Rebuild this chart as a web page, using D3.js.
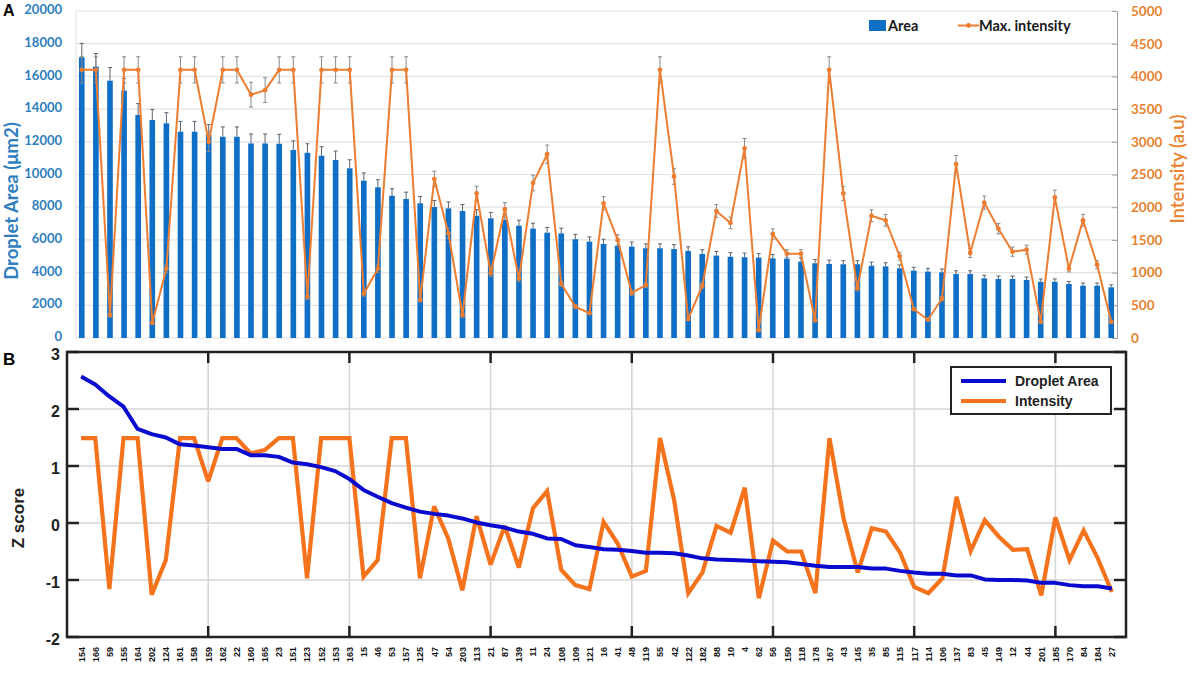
<!DOCTYPE html>
<html><head><meta charset="utf-8">
<script src="https://cdn.jsdelivr.net/npm/d3@7"></script>
<style>body{margin:0;background:#fff;} svg{display:block;}</style>
</head><body><svg id="c" width="1192" height="673"></svg>
<script>
const labels = ["154","166","59","155","164","202","124","161","158","159","162","22","160","165","23","151","123","152","153","163","15","46","53","157","125","47","54","203","113","21","87","139","11","24","108","109","121","16","41","48","119","55","42","122","182","88","10","4","62","56","150","118","178","167","43","145","35","85","115","117","114","106","137","83","45","149","12","44","201","185","170","84","184","27"];
const area = [17170,16600,15740,15130,13640,13330,13130,12620,12620,12450,
  12310,12310,11900,11900,11880,11500,11330,11150,10890,10380,
  9620,9220,8700,8500,8240,8010,7930,7770,7480,7320,
  7220,6870,6690,6440,6400,6040,5890,5750,5630,5590,
  5490,5490,5440,5320,5140,5040,4970,4940,4920,4870,
  4850,4670,4570,4530,4510,4510,4420,4380,4260,4120,
  4060,4020,3910,3910,3650,3610,3610,3550,3440,3440,
  3300,3200,3200,3100];
const areaErr = [850,800,800,750,700,650,650,630,630,600,
  600,600,580,580,580,560,550,550,540,520,
  480,460,430,420,410,400,390,390,370,360,
  360,340,330,320,320,300,290,290,280,280,
  270,270,270,260,260,250,250,250,240,240,
  240,230,230,230,220,220,220,220,210,210,
  200,200,200,200,180,180,180,180,170,170,
  160,160,160,150];
const intensity = [4100,4100,350,4100,4100,230,1060,4100,4100,3000,
  4100,4100,3720,3790,4100,4100,630,4100,4100,4100,
  680,1060,4100,4100,580,2430,1600,350,2210,990,
  1970,910,2370,2810,830,480,380,2060,1500,690,
  810,4100,2470,290,800,1940,1760,2900,120,1590,
  1290,1290,270,4100,2210,760,1870,1800,1250,440,
  280,600,2660,1300,2070,1670,1320,1350,250,2150,
  1060,1800,1120,250];
const intensityErr = [200,200,30,200,200,20,60,200,200,150,
  200,200,190,190,200,200,40,200,200,200,
  40,60,200,200,30,120,80,30,110,50,
  100,50,120,140,40,30,20,100,80,40,
  40,200,120,20,40,100,90,150,10,80,
  60,60,20,200,110,40,90,90,60,20,
  20,30,130,70,100,80,70,70,20,110,
  50,90,60,20];
const zArea = [2.57,2.43,2.22,2.04,1.65,1.56,1.50,1.38,1.36,1.33,
  1.30,1.30,1.19,1.19,1.16,1.06,1.03,0.98,0.91,0.77,
  0.58,0.46,0.35,0.27,0.20,0.16,0.13,0.08,0.01,-0.04,
  -0.08,-0.15,-0.19,-0.27,-0.28,-0.39,-0.42,-0.46,-0.47,-0.49,
  -0.52,-0.52,-0.53,-0.57,-0.62,-0.64,-0.65,-0.66,-0.67,-0.68,
  -0.69,-0.72,-0.75,-0.77,-0.77,-0.77,-0.80,-0.80,-0.84,-0.87,
  -0.89,-0.89,-0.92,-0.92,-0.99,-1.00,-1.00,-1.01,-1.05,-1.05,
  -1.09,-1.11,-1.11,-1.15];
const zIntensity = [1.49,1.49,-1.16,1.49,1.49,-1.26,-0.65,1.49,1.49,0.73,
  1.49,1.49,1.22,1.28,1.49,1.49,-0.97,1.49,1.49,1.49,
  -0.94,-0.65,1.49,1.49,-0.97,0.29,-0.27,-1.18,0.12,-0.73,
  -0.05,-0.78,0.26,0.56,-0.82,-1.09,-1.16,0.02,-0.36,-0.94,
  -0.84,1.49,0.40,-1.23,-0.87,-0.05,-0.17,0.62,-1.32,-0.31,
  -0.50,-0.50,-1.23,1.49,0.08,-0.87,-0.09,-0.15,-0.52,-1.12,
  -1.23,-0.97,0.46,-0.49,0.05,-0.24,-0.47,-0.46,-1.27,0.10,
  -0.65,-0.13,-0.62,-1.21];
const areaTicks = [0,2000,4000,6000,8000,10000,12000,14000,16000,18000,20000];
const intensityTicks = [0,500,1000,1500,2000,2500,3000,3500,4000,4500,5000];
const zTicks = [-2,-1,0,1,2,3];
const zGridX = [10,20,30,40,50,60,70];

const svg = d3.select("#c");
const fA = "Lato, 'Liberation Sans', sans-serif";
const fB = "'Liberation Sans', Arial, sans-serif";
const barBlue = "#0F6FC6", axBlue = "#2F7EC0", orange = "#ED7D31", axOrange = "#E8822F";

// ---------- Panel A ----------
const xA = d3.scaleBand().domain(labels).range([76, 1117]).paddingInner(0.6).paddingOuter(0.21);
const yA = d3.scaleLinear().domain([0, 20000]).range([338, 11]);
const yI = d3.scaleLinear().domain([0, 5000]).range([338, 11]);
const cx = d => xA(d) + xA.bandwidth() / 2;

const gA = svg.append("g");
gA.append("g").selectAll("line").data(areaTicks).join("line")
  .attr("x1", 76).attr("x2", 1117).attr("y1", d => yA(d)).attr("y2", d => yA(d))
  .attr("stroke", "#E3E3E3").attr("stroke-width", 1.2);
gA.append("line").attr("x1", 76).attr("x2", 76).attr("y1", 11).attr("y2", 338).attr("stroke", "#E0E0E0");

// left axis
const axL = gA.append("g").attr("transform", "translate(66,-1.5)")
  .call(d3.axisLeft(yA).tickValues(areaTicks).tickSize(0).tickPadding(4).tickFormat(d3.format("d")));
axL.select(".domain").remove();
axL.selectAll("text").attr("fill", axBlue).attr("font-family", fA).attr("font-weight", "bold").attr("font-size", 13);

// right axis
const axR = gA.append("g").attr("transform", "translate(1117,0)")
  .call(d3.axisRight(yI).tickValues(intensityTicks).tickSize(-5).tickPadding(14).tickFormat(d3.format("d")));
axR.select(".domain").attr("stroke", "#A0A0A0");
axR.selectAll("line").attr("stroke", "#A0A0A0");
axR.selectAll("text").attr("fill", axOrange).attr("font-family", fA).attr("font-weight", "bold").attr("font-size", 13.5);

// bars
gA.append("g").selectAll("rect").data(labels).join("rect")
  .attr("x", d => xA(d)).attr("width", xA.bandwidth())
  .attr("y", (d, i) => yA(area[i])).attr("height", (d, i) => yA(0) - yA(area[i]))
  .attr("fill", barBlue);
// bar error bars (upper)
const eb = gA.append("g").attr("stroke", "#5A6470").attr("stroke-width", 1);
eb.selectAll("line.v").data(labels).join("line").attr("class", "v")
  .attr("x1", cx).attr("x2", cx)
  .attr("y1", (d, i) => yA(area[i])).attr("y2", (d, i) => yA(area[i] + areaErr[i]));
eb.selectAll("line.c").data(labels).join("line").attr("class", "c")
  .attr("x1", d => cx(d) - 2).attr("x2", d => cx(d) + 2)
  .attr("y1", (d, i) => yA(area[i] + areaErr[i])).attr("y2", (d, i) => yA(area[i] + areaErr[i]));

// intensity error bars
const ib = gA.append("g").attr("stroke", "#8A8A8A").attr("stroke-width", 1);
ib.selectAll("line.v").data(labels).join("line").attr("class", "v")
  .attr("x1", cx).attr("x2", cx)
  .attr("y1", (d, i) => yI(intensity[i] - intensityErr[i])).attr("y2", (d, i) => yI(intensity[i] + intensityErr[i]));
[1, -1].forEach(s => {
  ib.selectAll("line.c" + (s > 0 ? "p" : "m")).data(labels).join("line").attr("class", "c" + (s > 0 ? "p" : "m"))
    .attr("x1", d => cx(d) - 2).attr("x2", d => cx(d) + 2)
    .attr("y1", (d, i) => yI(intensity[i] + s * intensityErr[i])).attr("y2", (d, i) => yI(intensity[i] + s * intensityErr[i]));
});

// intensity line
gA.append("path").datum(intensity)
  .attr("d", d3.line().x((d, i) => cx(labels[i])).y(d => yI(d)))
  .attr("fill", "none").attr("stroke", orange).attr("stroke-width", 2);
gA.append("g").selectAll("circle").data(intensity).join("circle")
  .attr("cx", (d, i) => cx(labels[i])).attr("cy", d => yI(d)).attr("r", 2.4).attr("fill", orange);

// legend A
gA.append("rect").attr("x", 869).attr("y", 20).attr("width", 17).attr("height", 11).attr("fill", barBlue);
gA.append("text").attr("x", 888).attr("y", 31).text("Area")
  .attr("font-family", fA).attr("font-weight", "bold").attr("font-size", 14.5).attr("fill", "#1a1a1a");
gA.append("line").attr("x1", 958).attr("x2", 979).attr("y1", 25.5).attr("y2", 25.5).attr("stroke", orange).attr("stroke-width", 2);
gA.append("circle").attr("cx", 968.5).attr("cy", 25.5).attr("r", 2.4).attr("fill", orange);
gA.append("text").attr("x", 979).attr("y", 31).text("Max. intensity")
  .attr("font-family", fA).attr("font-weight", "bold").attr("font-size", 14.5).attr("fill", "#1a1a1a");

// axis titles A
gA.append("text").attr("transform", "translate(18,201) rotate(-90)").attr("text-anchor", "middle")
  .text("Droplet Area (\u03bcm2)").attr("font-family", fA).attr("font-weight", "bold").attr("font-size", 18.5).attr("fill", axBlue);
gA.append("text").attr("transform", "translate(1184,169) rotate(-90)").attr("text-anchor", "middle")
  .text("Intensity (a.u)").attr("font-family", fA).attr("font-weight", "600").attr("font-size", 18.5).attr("fill", axOrange);
svg.append("text").attr("x", 3).attr("y", 16).text("A")
  .attr("font-family", fB).attr("font-weight", "bold").attr("font-size", 16);

// ---------- Panel B ----------
const xB = d3.scaleLinear().domain([0, 75]).range([67, 1126]);
const yB = d3.scaleLinear().domain([-2, 3]).range([637, 352]);
const gB = svg.append("g");
gB.append("g").selectAll("line").data(zTicks.slice(1, -1)).join("line")
  .attr("x1", xB(0)).attr("x2", xB(75)).attr("y1", d => yB(d)).attr("y2", d => yB(d))
  .attr("stroke", "#D6D6D6").attr("stroke-width", 1.5);
gB.append("g").selectAll("line").data(zGridX).join("line")
  .attr("x1", d => xB(d)).attr("x2", d => xB(d)).attr("y1", yB(3)).attr("y2", yB(-2))
  .attr("stroke", "#D6D6D6").attr("stroke-width", 1.5);

// tick marks
const tk = gB.append("g").attr("stroke", "#222").attr("stroke-width", 2.5);
tk.selectAll("line.l").data(zTicks).join("line").attr("class", "l")
  .attr("x1", xB(0)).attr("x2", xB(0) + 12).attr("y1", d => yB(d)).attr("y2", d => yB(d));
tk.selectAll("line.r").data(zTicks).join("line").attr("class", "r")
  .attr("x1", xB(75)).attr("x2", xB(75) - 12).attr("y1", d => yB(d)).attr("y2", d => yB(d));
tk.selectAll("line.t").data(zGridX).join("line").attr("class", "t")
  .attr("x1", d => xB(d)).attr("x2", d => xB(d)).attr("y1", yB(3)).attr("y2", yB(3) + 11);
tk.selectAll("line.b").data(zGridX).join("line").attr("class", "b")
  .attr("x1", d => xB(d)).attr("x2", d => xB(d)).attr("y1", yB(-2)).attr("y2", yB(-2) - 11);

// lines
const lineB = d3.line().x((d, i) => xB(i + 1)).y(d => yB(d));
gB.append("path").datum(zIntensity).attr("d", lineB).attr("fill", "none")
  .attr("stroke", "#F5731C").attr("stroke-width", 4.2).attr("stroke-linejoin", "miter").attr("stroke-miterlimit", 3);
gB.append("path").datum(zArea).attr("d", lineB).attr("fill", "none")
  .attr("stroke", "#0B0BCF").attr("stroke-width", 4).attr("stroke-linejoin", "round");

// box
gB.append("rect").attr("x", xB(0)).attr("y", yB(3)).attr("width", xB(75) - xB(0)).attr("height", yB(-2) - yB(3))
  .attr("fill", "none").attr("stroke", "#222").attr("stroke-width", 2.5);

// y axis labels
const axBL = gB.append("g").attr("transform", `translate(${xB(0) - 5},2.5)`)
  .call(d3.axisLeft(yB).tickValues(zTicks).tickSize(0).tickPadding(2).tickFormat(d3.format("d")));
axBL.select(".domain").remove();
axBL.selectAll("text").attr("font-family", fB).attr("font-weight", "bold").attr("font-size", 16).attr("fill", "#222")
  .text(d => d < 0 ? "-" + Math.abs(d) : d);

// x labels
const axBB = gB.append("g").attr("transform", `translate(0,${yB(-2) + 10})`)
  .call(d3.axisBottom(xB).tickValues(d3.range(1, 75)).tickSize(0).tickPadding(0).tickFormat(i => labels[i - 1]));
axBB.select(".domain").remove();
axBB.selectAll("text").attr("font-family", fB).attr("font-weight", "bold").attr("font-size", 9).attr("fill", "#111")
  .attr("text-anchor", "end").attr("dy", "0.32em").attr("transform", "rotate(-90)").attr("x", 0).attr("y", 0);

// z label
gB.append("text").attr("transform", "translate(24,518) rotate(-90)").attr("text-anchor", "middle")
  .text("Z score").attr("font-family", fB).attr("font-weight", "bold").attr("font-size", 17).attr("fill", "#222");
svg.append("text").attr("x", 3).attr("y", 365).text("B")
  .attr("font-family", fB).attr("font-weight", "bold").attr("font-size", 17);

// legend B
gB.append("rect").attr("x", 951).attr("y", 367).attr("width", 160).attr("height", 47)
  .attr("fill", "#fff").attr("stroke", "#222").attr("stroke-width", 2);
gB.append("line").attr("x1", 961).attr("x2", 1006).attr("y1", 381).attr("y2", 381).attr("stroke", "#0B0BCF").attr("stroke-width", 4);
gB.append("line").attr("x1", 961).attr("x2", 1006).attr("y1", 401).attr("y2", 401).attr("stroke", "#F5731C").attr("stroke-width", 4);
gB.append("text").attr("x", 1015).attr("y", 386).text("Droplet Area")
  .attr("font-family", fB).attr("font-weight", "bold").attr("font-size", 14).attr("fill", "#222");
gB.append("text").attr("x", 1015).attr("y", 406).text("Intensity")
  .attr("font-family", fB).attr("font-weight", "bold").attr("font-size", 14).attr("fill", "#222");
</script>
</body></html>
